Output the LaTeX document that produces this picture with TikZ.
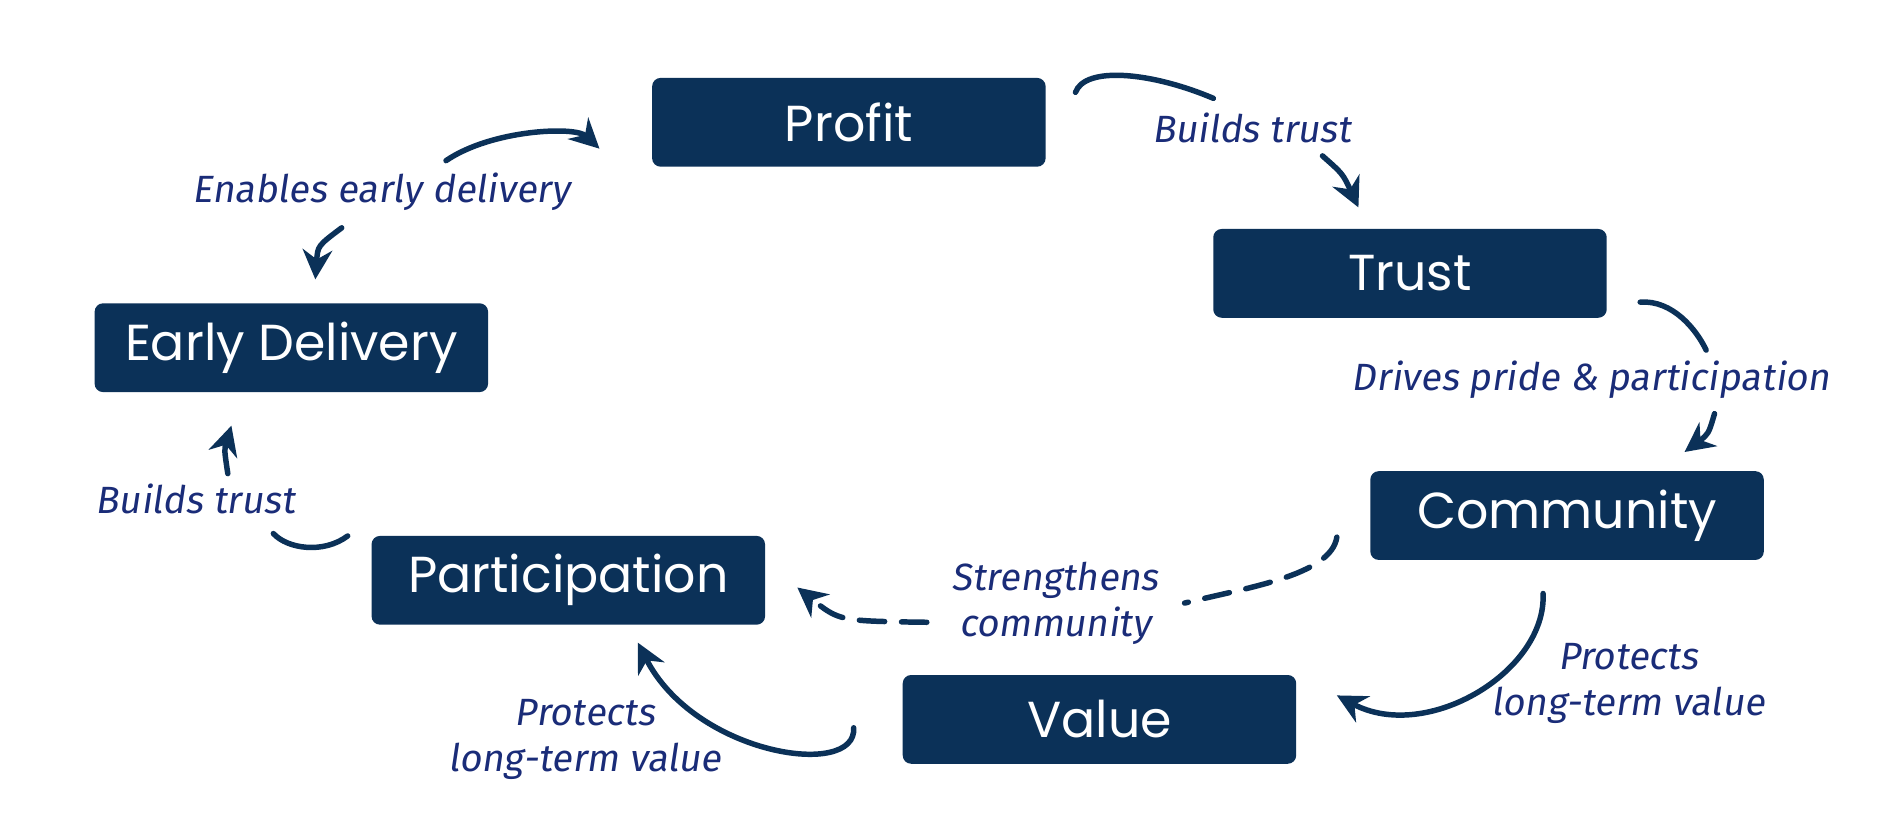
\documentclass[tikz,border=0pt]{standalone}
\usepackage{fontspec}
\setmainfont{Poppins}
\newfontfamily\hand{Fira Sans}[FakeSlant=0.15]
\usetikzlibrary{arrows.meta}
\definecolor{navy}{HTML}{0B3158}
\definecolor{ink}{HTML}{1A2C78}
\begin{document}
\begin{tikzpicture}[x=0.01cm,y=-0.01cm,
 box/.style={fill=navy,rounded corners=2pt,minimum width=3.28cm,minimum height=0.74cm,text=white,font=\fontsize{12}{14}\selectfont},
 lab/.style={text=ink,font=\hand\fontsize{9}{11}\selectfont,align=center},
 con/.style={draw=navy,line width=1.3pt,line cap=round},
 tip/.style={con,-{Stealth[length=7pt,width=7pt]}}]
\fill[white] (0,0) rectangle (1568,697);
\node[box] (profit) at (708,102) {Profit};
\node[box] (trust) at (1176,228) {Trust};
\node[box] (early) at (243,290) {Early Delivery};
\node[box] (comm) at (1307,430) {Community};
\node[box] (part) at (474,484) {Participation};
\node[box] (value) at (917,600) {Value};
\node[lab] (l1) at (1044,107) {Builds trust};
\node[lab] (l2) at (1327,317) {Drives pride \& participation};
\node[lab] (l3) at (880,503) {Strengthens\\community};
\node[lab] (l4) at (1358,570) {Protects\\long-term value};
\node[lab] (l5) at (488,617) {Protects\\long-term value};
\node[lab] (l6) at (163,416) {Builds trust};
\node[lab] (l7) at (318,160) {Enables early delivery};
\coordinate (a1) at (897,77); \coordinate (b1) at (1012,82);
\coordinate (c1) at (1103,130); \coordinate (d1) at (1133,173);
\draw[con] (a1) .. controls (905,55) and (960,60) .. (b1);
\draw[tip] (c1) .. controls (1120,145) .. (d1);
\coordinate (a2) at (1368,252); \coordinate (b2) at (1423,292);
\coordinate (c2) at (1430,345); \coordinate (d2) at (1405,377);
\draw[con] (a2) .. controls (1395,250) and (1415,275) .. (b2);
\draw[tip] (c2) .. controls (1425,362) .. (d2);
\coordinate (a3) at (1115,448); \coordinate (b3) at (988,503);
\coordinate (c3) at (773,519); \coordinate (d3) at (665,490);
\draw[con,dashed,dash pattern=on 6pt off 4pt] (a3) .. controls (1110,480) and (1040,490) .. (b3);
\draw[tip,dash pattern=on 6pt off 4pt] (c3) .. controls (700,518) .. (d3);
\coordinate (a4) at (1287,495); \coordinate (d4) at (1115,580);
\draw[tip] (a4) .. controls (1290,560) and (1190,620) .. (d4);
\coordinate (a5) at (712,607); \coordinate (d5) at (532,536);
\draw[tip] (a5) .. controls (715,650) and (580,630) .. (d5);
\coordinate (a6) at (290,447); \coordinate (b6) at (228,445);
\coordinate (c6) at (190,395); \coordinate (d6) at (193,355);
\draw[con] (a6) .. controls (270,462) and (240,458) .. (b6);
\draw[tip] (c6) .. controls (187,375) .. (d6);
\coordinate (a7) at (372,134); \coordinate (d7) at (500,124);
\coordinate (c7) at (285,190); \coordinate (e7) at (263,233);
\draw[tip] (a7) .. controls (410,108) and (480,105) .. (d7);
\draw[tip] (c7) .. controls (265,205) .. (e7);
\end{tikzpicture}
\end{document}
